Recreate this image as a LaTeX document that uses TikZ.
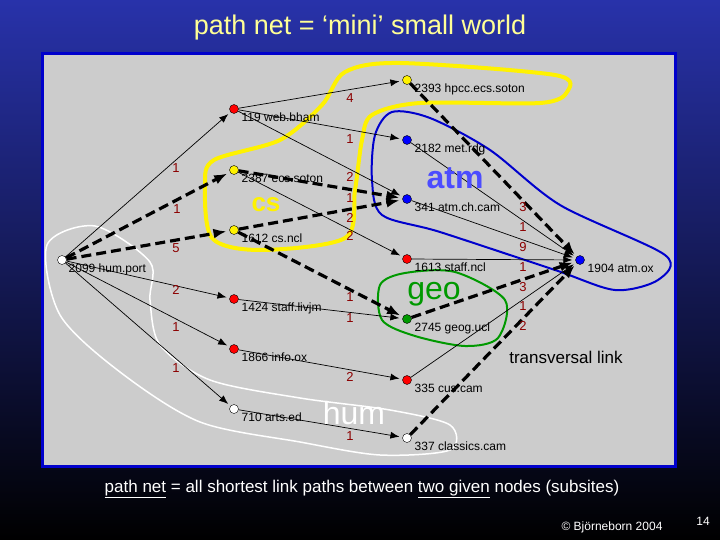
\documentclass[tikz,border=0pt]{standalone}
\usepackage{fontspec}
\setmainfont{Liberation Sans}
\usetikzlibrary{arrows.meta,shadings}
\begin{document}
\begin{tikzpicture}[x=1pt,y=-1pt,
 nd/.style={circle,draw=black,line width=0.4pt,inner sep=0pt,minimum size=9pt},
 lb/.style={anchor=north west,font=\fontsize{12}{13}\selectfont,inner sep=0.5pt},
 thin/.style={-{Latex[length=9pt,width=7pt]},line width=0.7pt,shorten >=3pt},
 thick/.style={-{Latex[length=13pt,width=10pt]},line width=3.2pt,dash pattern=on 10pt off 5pt,shorten >=3pt},
 w/.style={font=\fontsize{13}{14}\selectfont,text=red!55!black,inner sep=0.5pt}]
\useasboundingbox (0,0) rectangle (720,540);
\shade[top color={rgb,255:red,40;green,50;blue,170},bottom color=black] (0,0) rectangle (720,540);
\fill[blue!80!black] (41,52) rectangle (677,468);
\fill[black!20] (44,55) rectangle (674,465);
\node[text={rgb,255:red,255;green,255;blue,150},font=\fontsize{27}{27}\selectfont] (title) at (360,28) {path net = ‘mini’ small world};
% blobs
\draw[yellow,line width=4pt] plot[smooth cycle] coordinates {(205,185)(214,160)(280,140)(322,105)(345,72)(400,63)(555,75)(567,92)(540,103)(420,103)(372,115)(362,140)(355,190)(345,238)(260,250)(212,238)};
\draw[blue!80!black,line width=2pt] plot[smooth cycle] coordinates {(375,135)(392,112)(430,118)(490,150)(560,205)(665,255)(658,280)(615,290)(555,270)(440,232)(382,215)(372,180)};
\draw[green!60!black,line width=2pt] plot[smooth cycle] coordinates {(380,285)(405,273)(455,272)(505,300)(498,338)(465,346)(415,336)(382,320)};
\draw[white,line width=1.5pt] plot[smooth cycle] coordinates {(47,245)(95,226)(150,262)(150,300)(160,345)(210,380)(300,398)(390,410)(450,425)(450,450)(380,455)(300,442)(200,422)(120,372)(60,315)};
% nodes
\node[nd,fill=white] (hp) at (62,260) {};
\node[nd,fill=red] (wb) at (234,109) {};
\node[nd,fill=yellow] (es) at (234,170) {};
\node[nd,fill=yellow] (cn) at (234,230) {};
\node[nd,fill=yellow] (hc) at (407,80) {};
\node[nd,fill=blue] (mr) at (407,140) {};
\node[nd,fill=blue] (ac) at (407,199) {};
\node[nd,fill=red] (sn) at (407,259) {};
\node[nd,fill=blue] (ao) at (580,260) {};
\node[nd,fill=red] (sl) at (234,299) {};
\node[nd,fill={green!60!black}] (gu) at (407,319) {};
\node[nd,fill=red] (io) at (234,349) {};
\node[nd,fill=red] (cc) at (407,380) {};
\node[nd,fill=white] (ae) at (234,409) {};
\node[nd,fill=white] (cl) at (407,438) {};
% edges
\draw[thin] (hp) -- (wb);
\draw[thick] (hp) -- (es);
\draw[thick] (hp) -- (cn);
\draw[thin] (hp) -- (sl);
\draw[thin] (hp) -- (io);
\draw[thin] (hp) -- (ae);
\draw[thin] (wb) -- (hc);
\draw[thin] (wb) -- (mr);
\draw[thin] (wb) -- (ac);
\draw[thick] (es) -- (ac);
\draw[thick] (cn) -- (ac);
\draw[thin] (es) -- (sn);
\draw[thick] (cn) -- (gu);
\draw[thin] (sl) -- (gu);
\draw[thin] (io) -- (cc);
\draw[thin] (ae) -- (cl);
\draw[thick] (hc) -- (ao);
\draw[thin] (mr) -- (ao);
\draw[thin] (ac) -- (ao);
\draw[thin] (sn) -- (ao);
\draw[thick] (gu) -- (ao);
\draw[thin] (cc) -- (ao);
\draw[thick] (cl) -- (ao);
% weights
\foreach \t/\x/\y [count=\i] in {1/176/168,1/177/209,5/176/248,2/176/290,1/176/327,1/176/368,
  4/350/98,1/350/139,2/350/177,1/350/198,2/350/218,2/350/236,1/350/297,1/350/318,2/350/377,1/350/436,
  3/523/207,1/523/227,9/523/247,1/523/267,3/523/287,1/523/306,2/523/326}
  \node[w] (wt\i) at (\x,\y) {\t};
% labels
\node[lb] at (241,112) {119 web.bham};
\node[lb] at (241,173) {2387 ecs.soton};
\node[lb] at (241,233) {1612 cs.ncl};
\node[lb] at (414,83) {2393 hpcc.ecs.soton};
\node[lb] at (414,143) {2182 met.rdg};
\node[lb] at (414,202) {341 atm.ch.cam};
\node[lb] at (414,262) {1613 staff.ncl};
\node[lb] at (587,263) {1904 atm.ox};
\node[lb] at (68,263) {2099 hum.port};
\node[lb] at (241,302) {1424 staff.livjm};
\node[lb] at (414,322) {2745 geog.ucl};
\node[lb] at (241,352) {1866 info.ox};
\node[lb] at (414,383) {335 cus.cam};
\node[lb] at (241,412) {710 arts.ed};
\node[lb] at (414,441) {337 classics.cam};
% group names
\node[text=yellow,font=\bfseries\fontsize{26}{26}\selectfont] (cs) at (266,205) {cs};
\node[text=blue!70!white,font=\bfseries\fontsize{32}{32}\selectfont] (atm) at (455,178) {atm};
\node[text=green!60!black,font=\fontsize{32}{32}\selectfont] (geo) at (434,294) {geo};
\node[text=white,font=\fontsize{32}{32}\selectfont] (hum) at (354,413) {hum};
\node[font=\fontsize{17}{17}\selectfont] (tl) at (566,357) {transversal link};
% bottom
\node[text=white,font=\fontsize{17}{17}\selectfont] (cap) at (362,489) {\underline{path net} = all shortest link paths between \underline{two given} nodes (subsites)};
\node[text=white,font=\fontsize{12}{12}\selectfont] (cr) at (612,527) {© Björneborn 2004};
\node[text=white,font=\fontsize{12}{12}\selectfont] (pg) at (703,521) {14};
\end{tikzpicture}
\end{document}
